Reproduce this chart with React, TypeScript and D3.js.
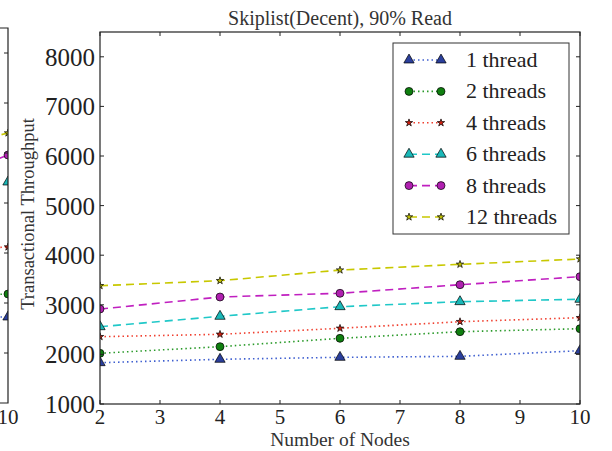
import React from "react";
import * as d3 from "d3";

const nodes = [2, 4, 6, 8, 10];
const seriesNames = ["1 thread", "2 threads", "4 threads", "6 threads", "8 threads", "12 threads"];
const t1 = [1833, 1901, 1941, 1961, 2075];
const t2 = [2022, 2156, 2324, 2458, 2518];
const t4 = [2357, 2405, 2526, 2660, 2740];
const t6 = [2558, 2768, 2962, 3063, 3111];
const t8 = [2915, 3157, 3232, 3405, 3567];
const t12 = [3385, 3486, 3700, 3816, 3923];
const seriesValues = [t1, t2, t4, t6, t8, t12];

// clipped neighbouring panel visible at the left edge (its last two points)
const leftPanelX = [8, 10];
const leftPrev = [2700, 3100, 4000, 5300, 5000, 5800];
const leftLast = [2720, 3180, 4120, 5420, 5960, 6400];

const xTicks = [2, 3, 4, 5, 6, 7, 8, 9, 10];
const yTicks = [1000, 2000, 3000, 4000, 5000, 6000, 7000, 8000];

const lineColors = ["#3f5fd0", "#2a9a2a", "#f04030", "#20c8c8", "#c020c0", "#c8c800"];
const markerColors = ["#2b3f9c", "#0f7f0f", "#d02010", "#1ab8b8", "#b020b0", "#c0c000"];
const markerTypes = ["triangle", "circle", "star", "triangle", "circle", "star"];
const dashes = ["1.5,3", "1.5,3", "1.5,3", "8,5", "8,5", "8,5"];

const W = 612, H = 451;
const FONT = "'Liberation Serif', 'DejaVu Serif', serif";

function symPath(type: string) {
  if (type === "triangle") return d3.symbol(d3.symbolTriangle, 46)();
  if (type === "circle") return d3.symbol(d3.symbolCircle, 50)();
  return d3.symbol(d3.symbolStar, 17)();
}

export default function App() {
  const x = d3.scaleLinear().domain([2, 10]).range([100, 580]);
  const y = d3.scaleLinear().domain([1000, 8500]).range([404, 32]);
  const xl = d3.scaleLinear().domain([2, 10]).range([-472, 8]);
  const yl = d3.scaleLinear().domain([1000, 8500]).range([403, 28]);

  const line = d3.line<number>().x((_, i) => x(nodes[i])).y((v) => y(v));
  const lineL = d3.line<number>().x((_, i) => xl(leftPanelX[i])).y((v) => yl(v));

  const legX = 393, legY = 43, legW = 176, legH = 191;
  const rowY = (i: number) => 60 + i * 31.4;

  return (
    <svg width={W} height={H} style={{ position: "absolute", left: 0, top: 0, background: "#fff" }} fontFamily={FONT}>
      <defs>
        <clipPath id="clipMain"><rect x={100} y={32} width={480} height={372} /></clipPath>
        <clipPath id="clipLeft"><rect x={0} y={28} width={8} height={375} /></clipPath>
      </defs>
      <rect width={W} height={H} fill="#fff" />

      {/* left clipped panel */}
      <g clipPath="url(#clipLeft)">
        {seriesNames.map((_, s) => (
          <path key={s} d={lineL([leftPrev[s], leftLast[s]]) || ""} fill="none" stroke={lineColors[s]} strokeWidth={1.6} strokeDasharray={dashes[s]} />
        ))}
        {seriesNames.map((_, s) => (
          <path key={"m" + s} d={symPath(markerTypes[s]) || ""} transform={`translate(${xl(10)},${yl(leftLast[s])})`} fill={markerColors[s]} stroke="#000" strokeWidth={0.7} />
        ))}
      </g>
      <g stroke="#222" fill="none">
        <path d={`M0,${yl(8500)}H${xl(10)}V${yl(1000)}H0`} strokeWidth={1.2} />
        {yTicks.slice(1).map((t) => (
          <line key={t} x1={xl(10) - 4} x2={xl(10)} y1={yl(t)} y2={yl(t)} strokeWidth={1} />
        ))}
      </g>
      <text x={xl(10)} y={424} fontSize={21} textAnchor="middle" fill="#222">10</text>

      {/* main panel */}
      <g clipPath="url(#clipMain)">
        {seriesValues.map((vals, s) => (
          <path key={s} d={line(vals) || ""} fill="none" stroke={lineColors[s]} strokeWidth={1.6} strokeDasharray={dashes[s]} />
        ))}
        {seriesValues.map((vals, s) =>
          vals.map((v, i) => (
            <path key={s + "-" + i} d={symPath(markerTypes[s]) || ""} transform={`translate(${x(nodes[i])},${y(v)})`} fill={markerColors[s]} stroke="#000" strokeWidth={0.7} />
          ))
        )}
      </g>

      <g stroke="#222" fill="none">
        <rect x={100} y={32} width={480} height={372} strokeWidth={1.2} />
        {xTicks.map((t) => (
          <g key={t}>
            <line x1={x(t)} x2={x(t)} y1={404} y2={400} />
            <line x1={x(t)} x2={x(t)} y1={32} y2={36} />
          </g>
        ))}
        {yTicks.map((t) => (
          <g key={t}>
            <line x1={100} x2={104} y1={y(t)} y2={y(t)} />
            <line x1={580} x2={576} y1={y(t)} y2={y(t)} />
          </g>
        ))}
      </g>

      {xTicks.map((t) => (
        <text key={t} x={x(t)} y={424} fontSize={21} textAnchor="middle" fill="#222">{t}</text>
      ))}
      {yTicks.map((t) => (
        <text key={t} x={95} y={y(t) + 9} fontSize={25} textAnchor="end" fill="#222">{t}</text>
      ))}

      <text x={340} y={25} fontSize={20} textAnchor="middle" fill="#333">Skiplist(Decent), 90% Read</text>
      <text x={340} y={446} fontSize={19.5} textAnchor="middle" fill="#333">Number of Nodes</text>
      <text transform={`translate(34,214) rotate(-90)`} fontSize={18.5} textAnchor="middle" fill="#333">Transactional Throughput</text>

      {/* legend */}
      <rect x={legX} y={legY} width={legW} height={legH} fill="#fff" stroke="#333" strokeWidth={1} />
      {seriesNames.map((name, s) => (
        <g key={name}>
          <line x1={409} x2={441} y1={rowY(s)} y2={rowY(s)} stroke={lineColors[s]} strokeWidth={1.6} strokeDasharray={dashes[s]} />
          <path d={symPath(markerTypes[s]) || ""} transform={`translate(409,${rowY(s)})`} fill={markerColors[s]} stroke="#000" strokeWidth={0.7} />
          <path d={symPath(markerTypes[s]) || ""} transform={`translate(441,${rowY(s)})`} fill={markerColors[s]} stroke="#000" strokeWidth={0.7} />
          <text x={466} y={rowY(s) + 7} fontSize={22} fill="#222">{name}</text>
        </g>
      ))}
    </svg>
  );
}
